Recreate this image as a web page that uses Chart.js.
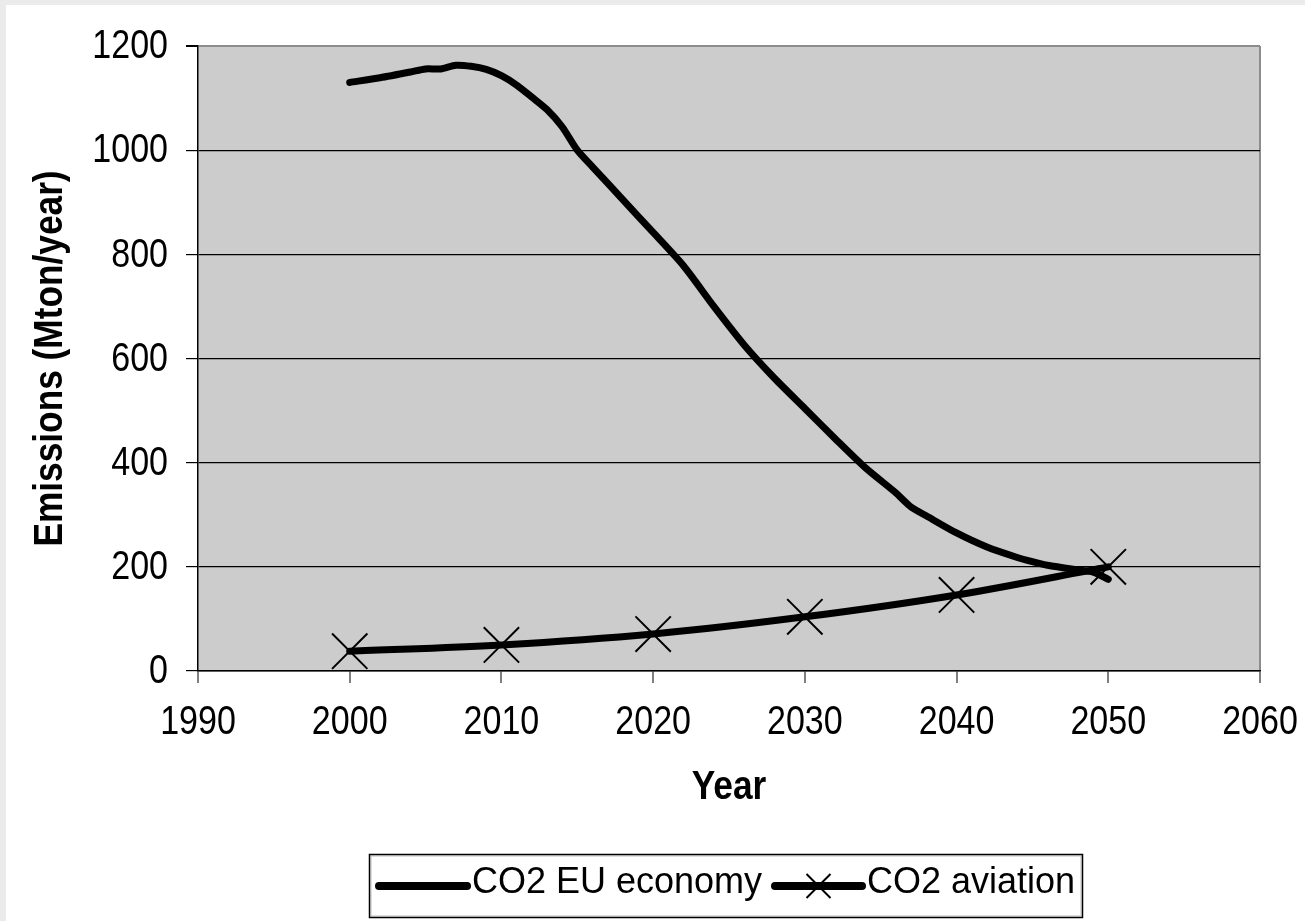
<!DOCTYPE html>
<html>
<head>
<meta charset="utf-8">
<script src="https://cdn.jsdelivr.net/npm/chart.js@4/dist/chart.umd.min.js"></script>
<style>
  html, body { margin: 0; padding: 0; background: #ebebeb; }
  #wrap { position: absolute; left: 0; top: 0; width: 1305px; height: 921px; }
  canvas { display: block; }
</style>
</head>
<body>
<div id="wrap"><canvas id="chart" width="1305" height="921"></canvas></div>
<script>
// Emission pathways, Mton CO2 per year
const euYears = [2000, 2002, 2004, 2005, 2006, 2007, 2008, 2009, 2010, 2011, 2012, 2013, 2014, 2015, 2016, 2018, 2020, 2022, 2024, 2026, 2028, 2030, 2032, 2034, 2036, 2037, 2038, 2040, 2042, 2044, 2045, 2046, 2048, 2049, 2050];
const euValues = [1130, 1139, 1150, 1156, 1156, 1163, 1161, 1155, 1143, 1125, 1102, 1078, 1045, 1000, 968, 905, 842, 778, 700, 626, 562, 504, 446, 390, 342, 315, 298, 265, 238, 218, 210, 203, 194, 190, 176];
const aviationYears = [2000, 2010, 2020, 2030, 2040, 2050];
const aviationValues = [38, 50, 71, 104, 146, 200];

const seriesLabels = ['CO2 EU economy', 'CO2 aviation'];
const xTickValues = [1990, 2000, 2010, 2020, 2030, 2040, 2050, 2060];
const yTickValues = [0, 200, 400, 600, 800, 1000, 1200];
const xTitle = 'Year';
const yTitle = 'Emissions (Mton/year)';

const SANS = "'Liberation Sans', Arial, sans-serif";
const TICK_SQUEEZE = 0.83;   // axis lettering is set in a condensed cut
const TITLE_SQUEEZE = 0.86;

const toPoints = (xs, ys) => xs.map((x, i) => ({ x: x, y: ys[i] }));

// page card, plot background
const backdrop = {
  id: 'backdrop',
  beforeDraw(chart) {
    const { ctx, chartArea: a } = chart;
    ctx.save();
    ctx.fillStyle = '#ebebeb';
    ctx.fillRect(0, 0, chart.width, chart.height);
    ctx.fillStyle = '#ffffff';
    ctx.fillRect(6, 5, chart.width - 6, chart.height - 5);
    ctx.fillStyle = '#cccccc';
    ctx.fillRect(a.left, a.top, a.right - a.left, a.bottom - a.top);
    ctx.restore();
  }
};

// condensed tick labels and axis titles, placed from the chart's scales
function squeezedText(ctx, text, x, y, squeeze) {
  const w = ctx.measureText(text).width * squeeze;
  ctx.fillText(text, x, y, w);
}

const axisText = {
  id: 'axisText',
  afterDraw(chart) {
    const { ctx, chartArea: a } = chart;
    const xs = chart.scales.x, ys = chart.scales.y;
    ctx.save();
    ctx.fillStyle = '#000';
    ctx.font = '41px ' + SANS;
    ctx.textBaseline = 'middle';

    ctx.textAlign = 'center';
    xs.ticks.forEach(t => {
      squeezedText(ctx, String(t.value), xs.getPixelForValue(t.value), a.bottom + 52, TICK_SQUEEZE);
    });

    ctx.textAlign = 'right';
    ys.ticks.forEach(t => {
      squeezedText(ctx, String(t.value), a.left - 30, ys.getPixelForValue(t.value) + 1, TICK_SQUEEZE);
    });

    ctx.font = 'bold 41px ' + SANS;
    ctx.textAlign = 'center';
    squeezedText(ctx, xTitle, (a.left + a.right) / 2, 788, TITLE_SQUEEZE);

    ctx.translate(51, (a.top + a.bottom) / 2);
    ctx.rotate(-Math.PI / 2);
    squeezedText(ctx, yTitle, 0, 0, TITLE_SQUEEZE);
    ctx.restore();
  }
};

// boxed legend under the x axis title
const boxedLegend = {
  id: 'boxedLegend',
  afterDraw(chart) {
    const { ctx } = chart;
    const box = { x: 369.5, y: 854.5, w: 713, h: 63 };
    ctx.save();
    ctx.strokeStyle = '#000000';
    ctx.lineWidth = 1.5;
    ctx.strokeRect(box.x, box.y, box.w, box.h);
    ctx.strokeStyle = 'rgba(0,0,0,0.25)';
    ctx.lineWidth = 1;
    ctx.strokeRect(box.x + 1.5, box.y + 1.5, box.w - 3, box.h - 3);

    const items = [
      { x0: 379, x1: 467, tx: 472 },
      { x0: 775, x1: 862, tx: 867 }
    ];
    const lineY = 886;
    chart.data.datasets.forEach((ds, i) => {
      const it = items[i];
      ctx.strokeStyle = ds.borderColor;
      ctx.lineWidth = ds.borderWidth + 1;
      ctx.lineCap = 'round';
      ctx.beginPath();
      ctx.moveTo(it.x0, lineY);
      ctx.lineTo(it.x1, lineY);
      ctx.stroke();
      if (ds.pointStyle === 'crossRot') {
        const cx = (it.x0 + it.x1) / 2, r = 12;
        ctx.strokeStyle = '#000';
        ctx.lineWidth = 2;
        ctx.lineCap = 'butt';
        ctx.beginPath();
        ctx.moveTo(cx - r, lineY - r);
        ctx.lineTo(cx + r, lineY + r);
        ctx.moveTo(cx + r, lineY - r);
        ctx.lineTo(cx - r, lineY + r);
        ctx.stroke();
      }
      ctx.fillStyle = '#000';
      ctx.font = '36px ' + SANS;
      ctx.textAlign = 'left';
      ctx.textBaseline = 'middle';
      ctx.fillText(ds.label, it.tx, 883);
    });
    ctx.restore();
  }
};

new Chart(document.getElementById('chart'), {
  type: 'line',
  data: {
    datasets: [
      {
        label: seriesLabels[0],
        data: toPoints(euYears, euValues),
        borderColor: '#000000',
        borderWidth: 7,
        pointRadius: 0,
        tension: 0.25,
        borderCapStyle: 'round',
        borderJoinStyle: 'round',
        fill: false
      },
      {
        label: seriesLabels[1],
        data: toPoints(aviationYears, aviationValues),
        borderColor: '#000000',
        borderWidth: 7,
        pointStyle: 'crossRot',
        pointRadius: 25,
        pointBorderWidth: 2,
        pointBorderColor: '#000000',
        pointBackgroundColor: '#000000',
        tension: 0.35,
        borderCapStyle: 'round',
        fill: false
      }
    ]
  },
  options: {
    responsive: false,
    animation: false,
    devicePixelRatio: 1,
    clip: false,
    layout: { padding: { left: 0, top: 46, right: 45, bottom: 100 } },
    plugins: {
      legend: { display: false },
      tooltip: { enabled: false }
    },
    scales: {
      x: {
        type: 'linear',
        min: xTickValues[0],
        max: xTickValues[xTickValues.length - 1],
        afterBuildTicks(scale) { scale.ticks = xTickValues.map(v => ({ value: v })); },
        afterFit(scale) { scale.height = 150; },
        ticks: { display: false },
        grid: {
          drawOnChartArea: true,
          color: ctx => (ctx.tick && ctx.tick.value === 2060) ? '#8c8c8c' : 'rgba(0,0,0,0)',
          lineWidth: 2,
          tickColor: '#000',
          tickLength: 12,
          tickWidth: 1
        },
        border: { display: true, color: '#000', width: 1.5 },
        title: { display: false }
      },
      y: {
        type: 'linear',
        min: yTickValues[0],
        max: yTickValues[yTickValues.length - 1],
        afterBuildTicks(scale) { scale.ticks = yTickValues.map(v => ({ value: v })); },
        afterFit(scale) { scale.width = 198; },
        ticks: { display: false },
        grid: {
          color: ctx => (ctx.tick && ctx.tick.value === 1200) ? '#8c8c8c' : '#000000',
          lineWidth: ctx => (ctx.tick && ctx.tick.value === 1200) ? 2 : 1.2,
          tickColor: '#000',
          tickLength: 12
        },
        border: { display: true, color: '#000', width: 1.5 },
        title: { display: false }
      }
    }
  },
  plugins: [backdrop, axisText, boxedLegend]
});
</script>
</body>
</html>
